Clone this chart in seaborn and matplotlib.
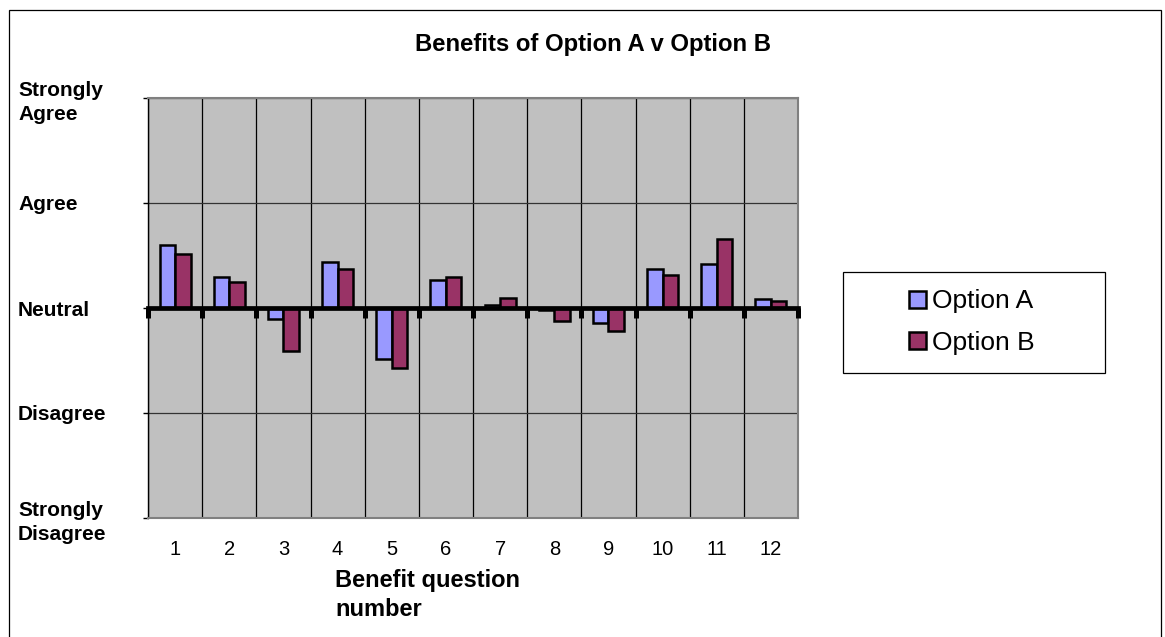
import numpy as np
import pandas as pd
import matplotlib
matplotlib.use("Agg")
import matplotlib.pyplot as plt
from matplotlib.patches import Rectangle
import seaborn as sns

# Mean response per benefit question, measured from Neutral (0)
questions = [str(i) for i in range(1, 13)]
option_a = [0.60, 0.30, -0.10, 0.44, -0.49, 0.27, 0.03, -0.02, -0.14, 0.37, 0.42, 0.09]
option_b = [0.51, 0.25, -0.41, 0.37, -0.57, 0.30, 0.10, -0.12, -0.22, 0.31, 0.66, 0.07]
scale_values = [-2, -1, 0, 1, 2]
scale_labels = ["Strongly\nDisagree", "Disagree", "Neutral", "Agree", "Strongly\nAgree"]
series_names = ["Option A", "Option B"]
series_colors = ["#9999FF", "#993366"]

df = pd.DataFrame({
    "question": questions * 2,
    "score": option_a + option_b,
    "option": [series_names[0]] * len(questions) + [series_names[1]] * len(questions),
})

sns.set_theme(style="white")
plt.rcParams["font.family"] = ["Liberation Sans", "DejaVu Sans"]
plt.rcParams.update({"text.color": "black", "axes.labelcolor": "black",
                     "xtick.color": "black", "ytick.color": "black"})

W, H = 1165, 637
fig = plt.figure(figsize=(W / 100, H / 100), dpi=100)
ax = fig.add_axes([148 / W, 1 - 518 / H, 650 / W, 420 / H])
ax.set_facecolor("#C0C0C0")

sns.barplot(data=df, x="question", y="score", hue="option", order=questions,
            hue_order=series_names, palette=series_colors, width=0.57, gap=0,
            edgecolor="black", linewidth=1.8, saturation=1, ax=ax, zorder=3)

n = len(questions)
ax.set_xlim(-0.5, n - 0.5)
ax.set_ylim(scale_values[0], scale_values[-1])

# category separators and scale gridlines
ax.set_xticks(np.arange(-0.5, n, 1), minor=True)
ax.grid(which="minor", axis="x", color="black", linewidth=0.9, zorder=1)
ax.grid(which="major", axis="y", color="#333333", linewidth=0.9, zorder=1)
ax.grid(which="major", axis="x", visible=False)
ax.set_axisbelow(True)

ax.set_yticks(scale_values)
ax.set_yticklabels(scale_labels, fontsize=15, fontweight="bold", linespacing=1.3)
tick_len = 3.6
ax.tick_params(axis="y", which="major", direction="out", length=tick_len, width=1,
               color="black", left=True, pad=130 * 0.72 - tick_len)
for lab in ax.get_yticklabels():
    lab.set_horizontalalignment("left")
    lab.set_multialignment("left")

ax.tick_params(axis="x", which="both", length=0, labelsize=14.5, pad=16,
               labelcolor="black")
ax.set_xlabel("")
ax.set_ylabel("")

for side in ["top", "right", "bottom"]:
    ax.spines[side].set_color("#808080")
    ax.spines[side].set_linewidth(1.5)
ax.spines["left"].set_color("black")
ax.spines["left"].set_linewidth(1.0)

# category axis crossing at Neutral, with ticks between categories
cat = ax.twiny()
cat.set_xlim(ax.get_xlim())
cat.xaxis.set_ticks_position("bottom")
cat.spines["bottom"].set_position(("data", 0))
cat.spines["bottom"].set_linewidth(3.4)
cat.spines["bottom"].set_color("black")
for side in ["top", "left", "right"]:
    cat.spines[side].set_visible(False)
cat.set_xticks(np.arange(-0.5, n, 1))
cat.set_xticklabels([])
cat.tick_params(axis="x", direction="out", length=7, width=3.6, color="black")
cat.patch.set_visible(False)

# legend
handles, labels = ax.get_legend_handles_labels()
if ax.get_legend() is not None:
    ax.get_legend().remove()
fig.patches.append(Rectangle((843 / W, 1 - 373 / H), 262 / W, 101 / H,
                             transform=fig.transFigure, facecolor="white",
                             edgecolor="black", linewidth=0.9))
leg = fig.legend(handles, labels, loc="center", bbox_to_anchor=(972 / W, 1 - 322 / H),
                 frameon=False, fontsize=19, handlelength=0.62, handleheight=0.62,
                 handletextpad=0.25, labelspacing=0.65, borderpad=0)
for h in leg.legend_handles:
    h.set_edgecolor("black")
    h.set_linewidth(1.8)

# titles
fig.text(593 / W, 1 - 44 / H, "Benefits of Option A v Option B", fontsize=17.2,
         fontweight="bold", ha="center", va="center")
fig.text(335 / W, 1 - 595 / H, "Benefit question\nnumber", fontsize=17,
         fontweight="bold", ha="left", va="center", linespacing=1.3)

# chart border
fig.patches.append(Rectangle((9 / W, -0.02), 1152 / W, 1 - 10 / H + 0.02,
                             transform=fig.transFigure, facecolor="none",
                             edgecolor="black", linewidth=0.9))

fig.savefig("out.png", dpi=100)
